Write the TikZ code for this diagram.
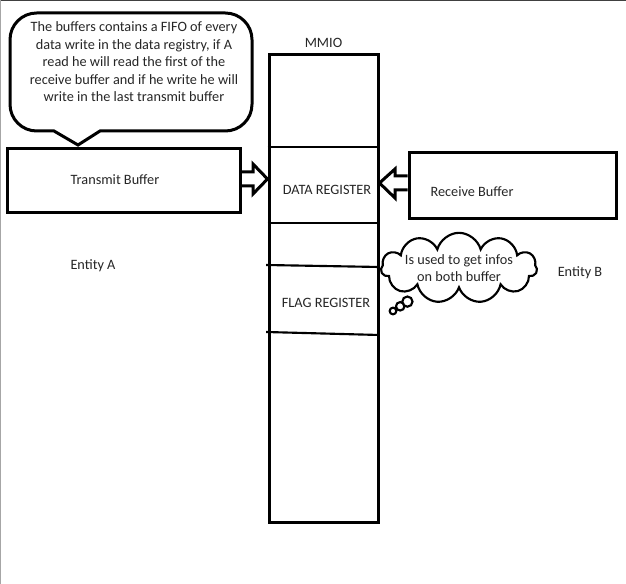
\documentclass[tikz,border=0pt]{standalone}
\usepackage{fontspec}
\setmainfont{Carlito}
\usetikzlibrary{positioning}
\usetikzlibrary{fit}
\usetikzlibrary{shapes.callouts}
\usetikzlibrary{shapes.symbols}
\tikzstyle{bufferbox} = [draw, line width=2.25pt, inner sep=0pt]
\tikzstyle{blockarrow} = [line width=2.25pt, line join=miter]
\tikzstyle{edgeline} = [line width=0.75pt]

\begin{document}
\begin{tikzpicture}[x=0.75pt,y=-0.75pt,
      every node/.style={font=\fontsize{10.7}{13.1}\selectfont, text=black!85},
      divider/.style={line width=1.6pt},
      infocloud/.style={cloud callout, draw, line width=1.6pt, cloud puffs=11,
        cloud ignores aspect, minimum width=117pt, minimum height=42pt, inner sep=0pt,
        callout pointer segments=3, callout pointer start size=17pt and 9pt,
        callout pointer end size=8pt and 5pt}]
  \useasboundingbox (0,0) rectangle (626,584);
  % frame of the screenshot
  \draw[edgeline, black!75] (0,0.5) -- (626,0.5);
  \draw[edgeline, black!35] (0.5,0) -- (0.5,584);

  % the MMIO column
  \node[bufferbox, fit={(269,55) (378,523)}] (mmio) {};
  \node (mmiolabel) [above=1pt of mmio] {MMIO};
  \draw[divider] (mmio.west |- 0,147) -- (mmio.east |- 0,147);
  \draw[divider] (mmio.west |- 0,223) -- (mmio.east |- 0,223);
  \draw[divider] ([xshift=-1pt]mmio.west |- 0,265) -- (mmio.east |- 0,267);
  \draw[divider] ([xshift=-1pt]mmio.west |- 0,332) -- (mmio.east |- 0,335);
  \node (data) at (327,190) {DATA REGISTER};
  \node (flag) at (326,303) {FLAG REGISTER};

  % the two buffers
  \node[bufferbox, fit={(7,149) (240,213)}] (tx) {};
  \node (txlabel) at (115,180) {Transmit Buffer};
  \node[bufferbox, fit={(409,153) (616,219)}] (rx) {};
  \node (rxlabel) at (472,192) {Receive Buffer};

  \node (entA) at (93,266) {Entity A};
  \node (entB) at (580,273) {Entity B};

  % block arrows into the data register
  \draw[blockarrow] (tx.east |- 0,172) -- (253,172) -- (253,164) -- (mmio.west |- 0,179)
      -- (253,194) -- (253,186) -- (tx.east |- 0,186);
  \draw[blockarrow] (rx.west |- 0,176) -- (395,176) -- (395,169) -- (mmio.east |- 0,183)
      -- (395,198) -- (395,190) -- (rx.west |- 0,190);

  % speech bubble
  \node[align=center] (note) at (134,62) {The buffers contains a FIFO of every\\
    data write in the data registry, if A\\ read he will read the first of the\\
    receive buffer and if he write he will\\ write in the last transmit buffer};
  \draw[line width=2.25pt, line join=miter] (78,145) -- (100,131) [rounded corners=20pt]
      -- (252,131) -- (252,13) -- (10,13) -- (10,131) [sharp corners] -- (54,131) -- cycle;

  % thought cloud
  \node[infocloud, align=center, callout absolute pointer={(393,311)}] (info) at (459,268)
    {Is used to get infos\\on both buffer};
\end{tikzpicture}
\end{document}
